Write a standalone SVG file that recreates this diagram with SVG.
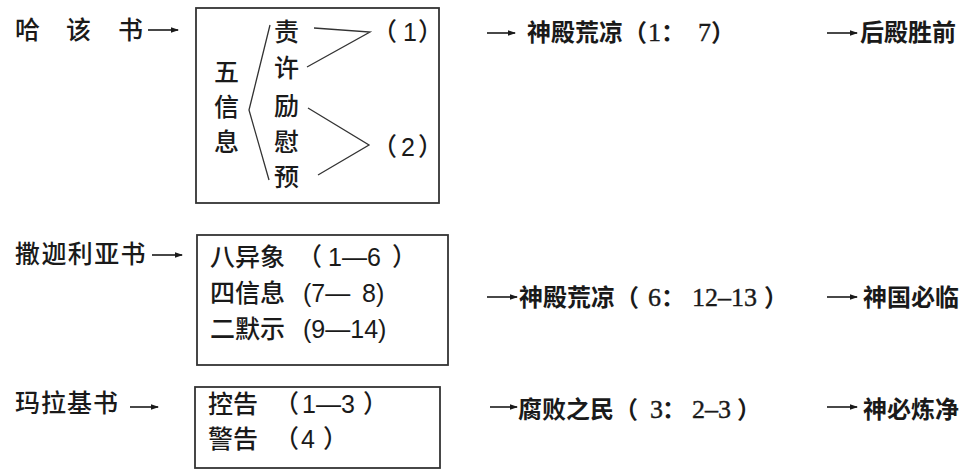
<svg xmlns="http://www.w3.org/2000/svg" width="970" height="471" viewBox="0 0 970 471">
<style>
.l{font-family:"Noto Sans CJK SC",sans-serif;font-size:25px;font-weight:500;fill:#1a1a1a}
.n{font-family:"Liberation Sans","Noto Sans CJK SC",sans-serif;font-size:25px;font-weight:400;fill:#1a1a1a}
.r{font-family:"Noto Sans CJK SC",serif;font-size:24px;font-weight:700;fill:#1a1a1a}
.rn{font-family:"Liberation Serif","Noto Sans CJK SC",serif;font-size:26px;font-weight:400;fill:#1a1a1a;stroke:#1a1a1a;stroke-width:0.4}
.box{fill:none;stroke:#333;stroke-width:1.8}
.ln{fill:none;stroke:#333;stroke-width:1.3}
.ar{stroke:#1a1a1a;stroke-width:1.6;fill:none;marker-end:url(#ah)}
</style>
<defs>
<marker id="ah" markerUnits="userSpaceOnUse" markerWidth="8" markerHeight="8" viewBox="0 0 8 8" refX="7" refY="4" orient="auto">
<path d="M0,1.2 L8,4 L0,6.8 Z" fill="#1a1a1a"/>
</marker>
</defs>
<rect width="970" height="471" fill="#fff"/>

<g id="haggai">
<text class="l" y="39"><tspan x="15">哈</tspan><tspan x="66">该</tspan><tspan x="118">书</tspan></text>
</g>

<g id="haggai-box">
<rect class="box" x="196" y="8" width="243" height="195"/>
<text class="l" x="214" y="81">五</text>
<text class="l" x="214" y="116">信</text>
<text class="l" x="214" y="151">息</text>
<text class="l" x="274" y="41">责</text>
<text class="l" x="274" y="77">许</text>
<text class="l" x="274" y="115">励</text>
<text class="l" x="274" y="151">慰</text>
<text class="l" x="274" y="186">预</text>
<polyline class="ln" points="270,25 249,110 269,180"/>
<polyline class="ln" points="314,28 370,32 307,67"/>
<polyline class="ln" points="308,108 369,145 318,175"/>
<text class="l" y="41"><tspan x="372">（</tspan><tspan class="n" x="403">1</tspan><tspan x="418">）</tspan></text>
<text class="l" y="156"><tspan x="372">（</tspan><tspan class="n" x="401">2</tspan><tspan x="418">）</tspan></text>
</g>

<g id="haggai-r1">
<text class="r" y="41"><tspan x="527">神殿荒凉（</tspan><tspan class="rn" x="648">1</tspan><tspan x="661">：</tspan><tspan class="rn" x="698">7</tspan><tspan x="711">）</tspan></text>
</g>
<g id="haggai-r2">
<text class="r" x="860" y="41">后殿胜前</text>
</g>

<g id="zechariah">
<text class="l" x="15" y="263" letter-spacing="1.4">撒迦利亚书</text>
</g>
<g id="zechariah-box">
<rect class="box" x="197" y="235" width="251" height="130"/>
<text class="l" x="210" y="266">八异象<tspan x="297">（</tspan><tspan class="n" x="328">1—6</tspan><tspan x="392">）</tspan></text>
<text class="l" x="210" y="302">四信息<tspan class="n" x="303">(7—</tspan><tspan class="n" x="362">8)</tspan></text>
<text class="l" x="210" y="338">二默示<tspan class="n" x="303">(9—14)</tspan></text>
</g>
<g id="zechariah-r1">
<text class="r" y="306"><tspan x="519">神殿荒凉（</tspan><tspan class="rn" x="648">6</tspan><tspan x="661">：</tspan><tspan class="rn" x="692">12–13</tspan><tspan x="764">）</tspan></text>
</g>
<g id="zechariah-r2">
<text class="r" x="863" y="306">神国必临</text>
</g>

<g id="malachi">
<text class="l" x="15" y="412" letter-spacing="1">玛拉基书</text>
</g>
<g id="malachi-box">
<rect class="box" x="195" y="387" width="245" height="81"/>
<text class="l" x="208" y="413">控告<tspan x="274">（</tspan><tspan class="n" x="302">1—3</tspan><tspan x="363">）</tspan></text>
<text class="l" x="208" y="448">警告<tspan x="274">（</tspan><tspan class="n" x="301">4</tspan><tspan x="323">）</tspan></text>
</g>
<g id="malachi-r1">
<text class="r" y="418"><tspan x="518">腐败之民（</tspan><tspan class="rn" x="650">3</tspan><tspan x="662">：</tspan><tspan class="rn" x="692">2–3</tspan><tspan x="737">）</tspan></text>
</g>
<g id="malachi-r2">
<text class="r" x="863" y="418">神必炼净</text>
</g>

<g id="connectors">
<line class="ar" x1="148" y1="30" x2="178" y2="30"/>
<line class="ar" x1="487" y1="33" x2="515" y2="33"/>
<line class="ar" x1="827" y1="33" x2="857" y2="33"/>
<line class="ar" x1="152" y1="255" x2="182" y2="255"/>
<line class="ar" x1="487" y1="297" x2="517" y2="297"/>
<line class="ar" x1="827" y1="297" x2="857" y2="297"/>
<line class="ar" x1="130" y1="407" x2="158" y2="407"/>
<line class="ar" x1="490" y1="407" x2="517" y2="407"/>
<line class="ar" x1="827" y1="407" x2="857" y2="407"/>
</g>
</svg>
